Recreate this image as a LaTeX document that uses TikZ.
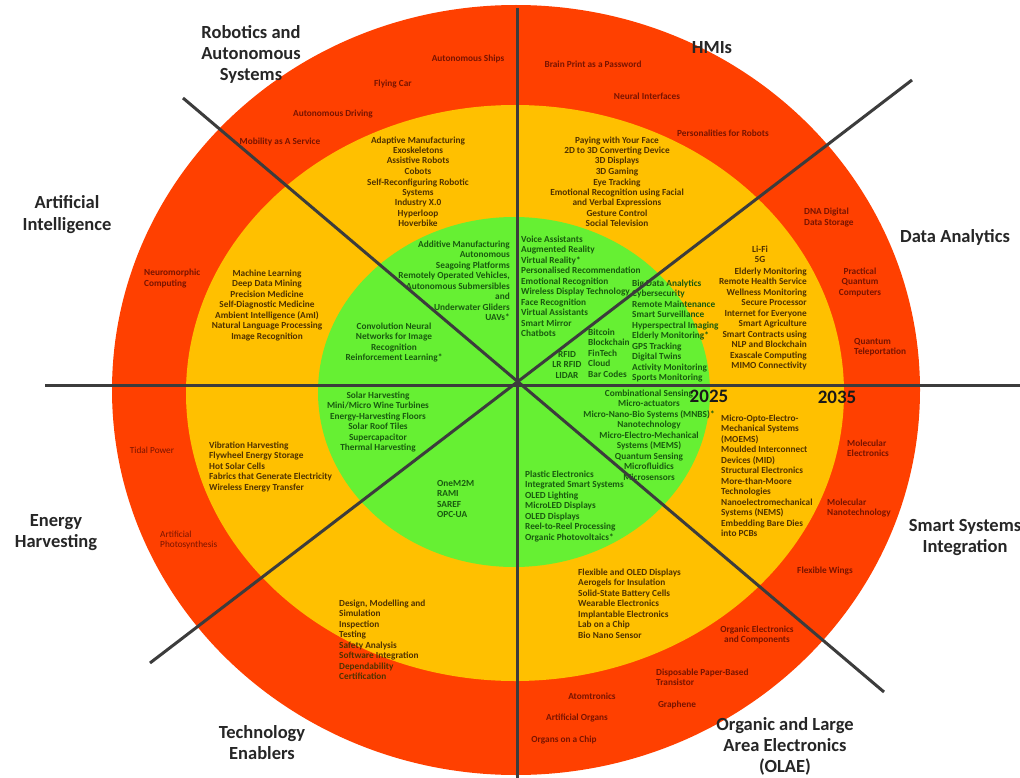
\documentclass[tikz,border=0pt]{standalone}
\usepackage{fontspec}
\setmainfont{Carlito}
\definecolor{ringred}{RGB}{255,64,0}
\definecolor{ringyel}{RGB}{255,192,0}
\definecolor{ringgrn}{RGB}{102,240,51}
\definecolor{rtxt}{RGB}{120,20,0}
\definecolor{ytxt}{RGB}{80,50,0}
\definecolor{gtxt}{RGB}{25,90,15}
\definecolor{axiscol}{RGB}{60,60,60}
\begin{document}
\begin{tikzpicture}[x=1pt,y=-1pt,
  itm/.style={inner sep=0pt, anchor=base, font=\bfseries\fontsize{9.3}{10.5}\selectfont},
  rt/.style={itm, text=rtxt},
  rtl/.style={rt, font=\fontsize{9.3}{10.5}\selectfont},
  yt/.style={itm, text=ytxt},
  gt/.style={itm, text=gtxt},
  cat/.style={inner sep=0pt, anchor=base, align=center, font=\bfseries\fontsize{18.5}{21}\selectfont, text=black!85},
  yr/.style={inner sep=0pt, anchor=base, font=\bfseries\fontsize{19}{22}\selectfont, text=black!90},
  ax/.style={draw=axiscol, line width=3pt}]
\useasboundingbox (0,0) rectangle (1020,778);
\fill[white] (0,0) rectangle (1020,778);
% rings
\fill[ringred] (516,390) ellipse [x radius=404pt, y radius=385pt];
\fill[ringyel] (515,393) ellipse [x radius=329pt, y radius=288pt];
\fill[ringgrn] (514,392) ellipse [x radius=196pt, y radius=175pt];
% red ring items (multi-line nodes: y is the baseline of the last line)
\node[rt] (r1) at (468,62) {Autonomous Ships};
\node[rt] (r2) at (393,87) {Flying Car};
\node[rt] (r3) at (333,117) {Autonomous Driving};
\node[rt] (r4) at (280,145) {Mobility as A Service};
\node[rt] (r5) at (593,68) {Brain Print as a Password};
\node[rt] (r6) at (647,100) {Neural Interfaces};
\node[rt] (r7) at (723,137) {Personalities for Robots};
\node[rt, align=left, anchor=base west] (r8) at (804,225.5) {DNA Digital\\Data Storage};
\node[rt, align=center] (r9) at (860,295) {Practical\\Quantum\\Computers};
\node[rt, align=left, anchor=base west] (r10) at (854,354.5) {Quantum\\Teleportation};
\node[rt, align=left, anchor=base west] (r11) at (847,456.5) {Molecular\\Electronics};
\node[rt, align=left, anchor=base west] (r12) at (827,515.5) {Molecular\\Nanotechnology};
\node[rt] (r13) at (825,573) {Flexible Wings};
\node[rt, align=center] (r14) at (757,642.5) {Organic Electronics\\and Components};
\node[rt, align=left, anchor=base west] (r15) at (656,685.5) {Disposable Paper-Based\\Transistor};
\node[rt] (r16) at (677,707) {Graphene};
\node[rt] (r17) at (592,699) {Atomtronics};
\node[rt] (r18) at (577,720) {Artificial Organs};
\node[rt] (r19) at (564,742) {Organs on a Chip};
\node[rtl] (r20) at (152,453) {Tidal Power};
\node[rtl, align=left, anchor=base west] (r21) at (160,547.5) {Artificial\\Photosynthesis};
\node[rt, align=left, anchor=base west] (r22) at (144,286.5) {Neuromorphic\\Computing};
% yellow ring items
\node[yt, align=center] (y1) at (418,227) {Adaptive Manufacturing\\Exoskeletons\\Assistive Robots\\Cobots\\Self-Reconfiguring Robotic\\Systems\\Industry X.0\\Hyperloop\\Hoverbike};
\node[yt, align=center] (y2) at (617,227) {Paying with Your Face\\2D to 3D Converting Device\\3D Displays\\3D Gaming\\Eye Tracking\\Emotional Recognition using Facial\\and Verbal Expressions\\Gesture Control\\Social Television};
\node[yt, align=center] (y3a) at (760,262.5) {Li-Fi\\5G};
\node[yt, align=right, anchor=base east] (y3) at (807,368.5) {Elderly Monitoring\\Remote Health Service\\Wellness Monitoring\\Secure Processor\\Internet for Everyone\\Smart Agriculture\\Smart Contracts using\\NLP and Blockchain\\Exascale Computing\\MIMO Connectivity};
\node[yt, align=left, anchor=base west] (y4) at (721,536.5) {Micro-Opto-Electro-\\Mechanical Systems\\(MOEMS)\\Moulded Interconnect\\Devices (MID)\\Structural Electronics\\More-than-Moore\\Technologies\\Nanoelectromechanical\\Systems (NEMS)\\Embedding Bare Dies\\into PCBs};
\node[yt, align=left, anchor=base west] (y5) at (578,638) {Flexible and OLED Displays\\Aerogels for Insulation\\Solid-State Battery Cells\\Wearable Electronics\\Implantable Electronics\\Lab on a Chip\\Bio Nano Sensor};
\node[yt, align=left, anchor=base west] (y6) at (339,679.5) {Design, Modelling and\\Simulation\\Inspection\\Testing\\Safety Analysis\\Software Integration\\Dependability\\Certification};
\node[yt, align=left, anchor=base west] (y7) at (209,490) {Vibration Harvesting\\Flywheel Energy Storage\\Hot Solar Cells\\Fabrics that Generate Electricity\\Wireless Energy Transfer};
\node[yt, align=center] (y8) at (267,339) {Machine Learning\\Deep Data Mining\\Precision Medicine\\Self-Diagnostic Medicine\\Ambient Intelligence (AmI)\\Natural Language Processing\\Image Recognition};
% green items
\node[gt, align=right, anchor=base east] (g1) at (510,320.5) {Additive Manufacturing\\Autonomous\\Seagoing Platforms\\Remotely Operated Vehicles,\\Autonomous Submersibles\\and\\Underwater Gliders\\UAVs*};
\node[gt, align=center] (g2) at (394,360.5) {Convolution Neural\\Networks for Image\\Recognition\\Reinforcement Learning*};
\node[gt, align=left, anchor=base west] (g3) at (521,336.5) {Voice Assistants\\Augmented Reality\\Virtual Reality*\\Personalised Recommendation\\Emotional Recognition\\Wireless Display Technology\\Face Recognition\\Virtual Assistants\\Smart Mirror\\Chatbots};
\node[gt, align=left, anchor=base west] (g4) at (632,380.5) {Big Data Analytics\\Cybersecurity\\Remote Maintenance\\Smart Surveillance\\Hyperspectral Imaging\\Elderly Monitoring*\\GPS Tracking\\Digital Twins\\Activity Monitoring\\Sports Monitoring};
\node[gt, align=left, anchor=base west] (g5) at (588,377) {Bitcoin\\Blockchain\\FinTech\\Cloud\\Bar Codes};
\node[gt, align=center] (g6) at (567,378) {RFID\\LR RFID\\LIDAR};
\node[gt, align=center] (g7) at (378,450.5) {Solar Harvesting\\Mini/Micro Wine Turbines\\Energy-Harvesting Floors\\Solar Roof Tiles\\Supercapacitor\\Thermal Harvesting};
\node[gt, align=left, anchor=base west] (g8) at (437,517.5) {OneM2M\\RAMI\\SAREF\\OPC-UA};
\node[gt, align=left, anchor=base west] (g9) at (525,540) {Plastic Electronics\\Integrated Smart Systems\\OLED Lighting\\MicroLED Displays\\OLED Displays\\Reel-to-Reel Processing\\Organic Photovoltaics*};
\node[gt, align=center] (g10) at (649,480) {Combinational Sensing\\Micro-actuators\\Micro-Nano-Bio Systems (MNBS)*\\Nanotechnology\\Micro-Electro-Mechanical\\Systems (MEMS)\\Quantum Sensing\\Microfluidics\\Microsensors};
% axes
\coordinate (hL) at (45,385);
\coordinate (hR) at (1020,385);
\coordinate (vT) at (517,8);
\coordinate (vB) at (517,778);
\coordinate (d1a) at (183,98);
\coordinate (d1b) at (884,692);
\coordinate (d2a) at (150,663);
\coordinate (d2b) at (912,80);
\draw[ax] (hL) -- (hR);
\draw[ax] (vT) -- (vB);
\draw[ax] (d1a) -- (d1b);
\draw[ax] (d2a) -- (d2b);
% years
\node[yr] (yr1) at (709,402) {2025};
\node[yr] (yr2) at (837,403) {2035};
% category labels
\node[cat] (c1) at (251,81) {Robotics and\\Autonomous\\Systems};
\node[cat] (c2) at (712,54) {HMIs};
\node[cat] (c3) at (955,243) {Data Analytics};
\node[cat] (c4) at (67,230) {Artificial\\Intelligence};
\node[cat] (c5) at (56,547) {Energy\\Harvesting};
\node[cat] (c6) at (262,759) {Technology\\Enablers};
\node[cat] (c7) at (785,772) {Organic and Large\\Area Electronics\\(OLAE)};
\node[cat] (c8) at (965,552) {Smart Systems\\Integration};
\end{tikzpicture}
\end{document}
